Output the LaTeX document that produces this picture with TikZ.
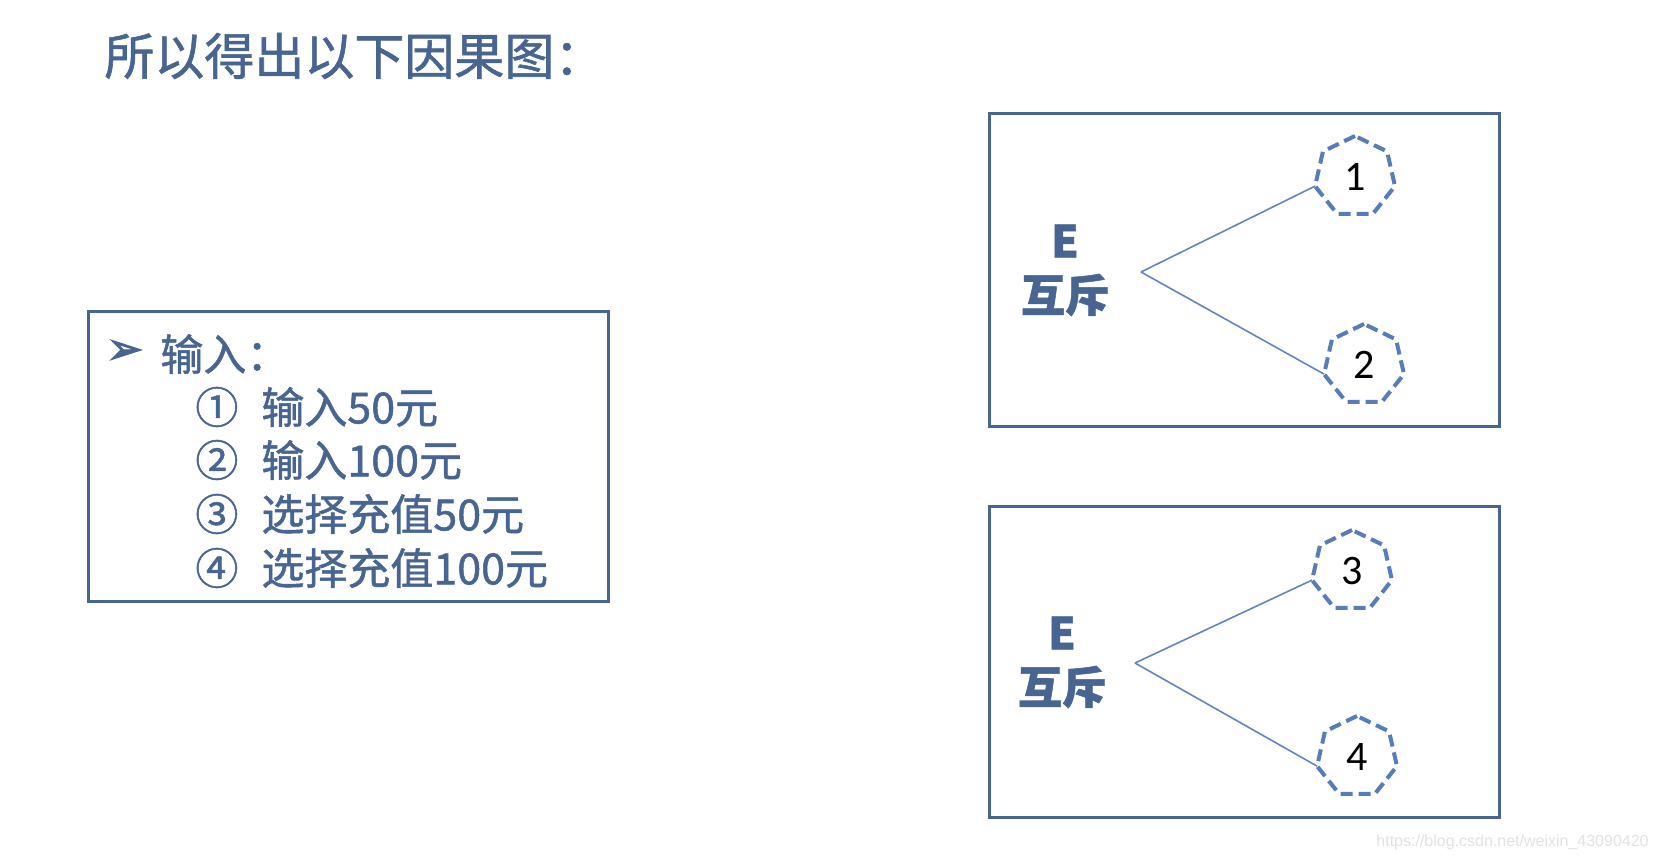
\documentclass[tikz,border=0pt]{standalone}
\usepackage{fontspec}
\newfontfamily\cjk[FakeBold=1.2]{Noto Sans CJK SC}
\newfontfamily\dejavu[FakeBold=2.5]{DejaVu Sans}
\newfontfamily\calibri{Carlito}
\newfontfamily\arial{Liberation Sans}
\usetikzlibrary{shapes.geometric}
\definecolor{slate}{RGB}{72,101,146}
\definecolor{dashblue}{RGB}{88,124,184}
\definecolor{linkblue}{RGB}{98,133,190}
\definecolor{wmark}{RGB}{226,226,226}

\begin{document}
\begin{tikzpicture}[x=0.5pt,y=-0.5pt,
  frame/.style={draw=slate, line width=1.5pt},
  heptagon/.style={regular polygon, regular polygon sides=7, draw=dashblue, line width=2pt,
    dash pattern=on 6pt off 3pt, inner sep=0pt, outer sep=0pt, minimum size=41pt,
    font=\calibri\fontsize{21}{21}\selectfont, text=black},
  link/.style={draw=linkblue, line width=0.8pt},
  mutex/.style={text=slate, font=\cjk\bfseries\fontsize{22}{26}\selectfont, inner sep=0pt},
  item/.style={anchor=west, text=slate, font=\cjk\fontsize{21.5}{26}\selectfont, inner sep=0pt}]
\useasboundingbox[fill=white] (0,0) rectangle (1658,860);
% title
\node[item, font=\cjk\fontsize{25}{30}\selectfont] (title) at (104,56) {所以得出以下因果图：};
% inputs
\draw[frame] (88,312) rectangle (608,601);
\node[item, font=\dejavu\fontsize{22}{24}\selectfont] (bullet) at (106,352) {➢};
\node[item] (inputs) at (160,354) {输入：};
\node[item] (c1) at (195,407) {①};
\node[item] (c2) at (195,460) {②};
\node[item] (c3) at (195,514) {③};
\node[item] (c4) at (195,568) {④};
\node[item] (t1) at (261,407) {输入50元};
\node[item] (t2) at (261,460) {输入100元};
\node[item] (t3) at (261,514) {选择充值50元};
\node[item] (t4) at (261,568) {选择充值100元};
% E: 1 and 2
\draw[frame] (989,114) rectangle (1499,427);
\node[mutex] (e1) at (1065,241) {E};
\node[mutex] (m1) at (1065,295) {互斥};
\coordinate (v1) at (1141,272);
\node[heptagon] (h1) at (1355,177) {1};
\node[heptagon] (h2) at (1364,365) {2};
\draw[link] (v1) -- (h1.corner 3);
\draw[link] (v1) -- (h2.corner 3);
% E: 3 and 4
\draw[frame] (989,506) rectangle (1499,817);
\node[mutex] (e2) at (1062,633) {E};
\node[mutex] (m2) at (1062,687) {互斥};
\coordinate (v2) at (1135,663);
\node[heptagon] (h3) at (1352,571) {3};
\node[heptagon] (h4) at (1357,757) {4};
\draw[link] (v2) -- (h3.corner 3);
\draw[link] (v2) -- (h4.corner 3);
% watermark
\node[anchor=east, text=wmark, font=\arial\fontsize{8}{9}\selectfont, inner sep=0pt] (wm) at (1649,842) {https://blog.csdn.net/weixin\_43090420};
\end{tikzpicture}
\end{document}
